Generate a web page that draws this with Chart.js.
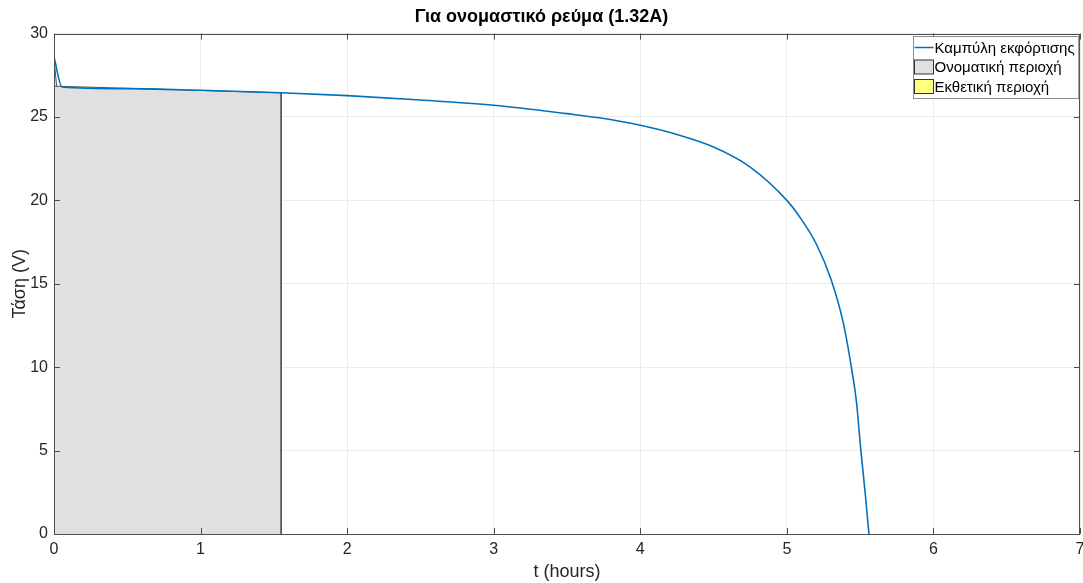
<!DOCTYPE html>
<html>
<head>
<meta charset="utf-8">
<script src="https://cdn.jsdelivr.net/npm/chart.js@4/dist/chart.umd.min.js"></script>
<style>
  html, body { margin: 0; padding: 0; background: #fff; }
  #wrap { width: 1083px; height: 583px; }
</style>
</head>
<body>
<div id="wrap"><canvas id="c"></canvas></div>
<script>
/* 放電曲線 (t σε ώρες, V σε Volt) */
var tDischarge = [0, 0.055, 0.5, 1.0, 1.55, 2.0, 2.5, 3.0, 3.5, 3.72, 4.0, 4.25, 4.5, 4.75, 5.0, 5.1, 5.2, 5.3, 5.384, 5.44, 5.475, 5.505, 5.535, 5.56];
var vDischarge = [28.6, 26.8, 26.7, 26.6, 26.45, 26.28, 26.02, 25.7, 25.2, 24.95, 24.5, 23.95, 23.2, 22.0, 20.0, 18.85, 17.4, 15.3, 12.7, 10.0, 7.9, 5.0, 2.4, 0];

/* Ονοματική περιοχή */
var tNominal = [0, 1.55, 1.55];
var vNominal = [26.85, 26.45, 0];

/* Εκθετική περιοχή */
var tExp = [0, 0.018, 0.018];
var vExp = [28.5, 26.85, 0];

var labels = ['Καμπύλη εκφόρτισης', 'Ονοματική περιοχή', 'Εκθετική περιοχή'];
var xTicks = [0, 1, 2, 3, 4, 5, 6, 7];
var yTicks = [0, 5, 10, 15, 20, 25, 30];

function toPoints(xs, ys) {
    return xs.map((x, i) => ({ x: x, y: ys[i] }));
}

var axisColor = '#262626';
var fontFam = '"Liberation Sans", Arial, Helvetica, sans-serif';

/* πλαίσιο, εσωτερικά ticks και legend όπως στο MATLAB */
var matlabBox = {
    id: 'matlabBox',
    afterDraw(chart) {
        var ctx = chart.ctx, a = chart.chartArea;
        var xs = chart.scales.x, ys = chart.scales.y;
        ctx.save();
        ctx.strokeStyle = '#4d4d4d';
        ctx.lineWidth = 1;
        ctx.beginPath();
        xTicks.forEach(v => {
            var px = Math.round(xs.getPixelForValue(v)) + 0.5;
            ctx.moveTo(px, a.bottom); ctx.lineTo(px, a.bottom - 6);
            ctx.moveTo(px, a.top); ctx.lineTo(px, a.top + 6);
        });
        yTicks.forEach(v => {
            var py = Math.round(ys.getPixelForValue(v)) + 0.5;
            ctx.moveTo(a.left, py); ctx.lineTo(a.left + 6, py);
            ctx.moveTo(a.right, py); ctx.lineTo(a.right - 6, py);
        });
        ctx.stroke();
        ctx.strokeRect(Math.round(a.left) + 0.5, Math.round(a.top) + 0.5,
                       Math.round(a.right - a.left) - 1, Math.round(a.bottom - a.top));

        // legend
        ctx.font = '15px ' + fontFam;
        var w = 0;
        labels.forEach(l => { w = Math.max(w, ctx.measureText(l).width); });
        var bw = w + 25, bh = 62;
        var bx = Math.round(a.right - 2 - bw) + 0.5, by = Math.round(a.top + 2) + 0.5;
        ctx.fillStyle = '#fff';
        ctx.fillRect(bx, by, bw, bh);
        ctx.strokeStyle = '#8c8c8c';
        ctx.strokeRect(bx, by, bw, bh);
        var ds = chart.data.datasets;
        ctx.textBaseline = 'middle';
        ctx.textAlign = 'left';
        for (var i = 0; i < 3; i++) {
            var cy = by + 11 + i * 19.5;
            if (i === 0) {
                ctx.strokeStyle = ds[0].borderColor;
                ctx.lineWidth = 1.5;
                ctx.beginPath(); ctx.moveTo(bx + 1, cy); ctx.lineTo(bx + 20, cy); ctx.stroke();
            } else {
                ctx.fillStyle = ds[i].backgroundColor;
                ctx.fillRect(bx + 1, cy - 7, 19, 14);
                ctx.strokeStyle = '#333';
                ctx.lineWidth = 1;
                ctx.strokeRect(bx + 1, cy - 7, 19, 14);
            }
            ctx.fillStyle = '#000';
            ctx.fillText(labels[i], bx + 21, cy + 1);
        }
        ctx.restore();
    }
};

new Chart(document.getElementById('c'), {
    type: 'scatter',
    data: {
        datasets: [
            {
                label: labels[0],
                data: toPoints(tDischarge, vDischarge),
                showLine: true,
                borderColor: '#0072BD',
                borderWidth: 1.6,
                pointRadius: 0,
                fill: false,
                cubicInterpolationMode: 'monotone'
            },
            {
                label: labels[1],
                data: toPoints(tNominal, vNominal),
                showLine: true,
                borderColor: '#505050',
                backgroundColor: '#e0e0e0',
                borderWidth: 1,
                pointRadius: 0,
                fill: 'origin'
            },
            {
                label: labels[2],
                data: toPoints(tExp, vExp),
                showLine: true,
                borderColor: '#505050',
                backgroundColor: '#ffff80',
                borderWidth: 1,
                pointRadius: 0,
                fill: 'origin'
            }
        ]
    },
    options: {
        responsive: true,
        maintainAspectRatio: false,
        animation: false,
        layout: { padding: { left: 0, right: 0, top: 0, bottom: 0 } },
        plugins: {
            legend: { display: false },
            tooltip: { enabled: false },
            title: {
                display: true,
                text: 'Για ονομαστικό ρεύμα (1.32A)',
                color: '#000',
                font: { family: fontFam, size: 18, weight: 'bold', lineHeight: 1.2 },
                padding: { top: 6, bottom: 6 }
            }
        },
        scales: {
            x: {
                type: 'linear',
                min: 0, max: 7,
                afterBuildTicks: (s) => { s.ticks = xTicks.map(v => ({ value: v })); },
                afterFit: (s) => { s.height = 49; s.paddingRight = 3; },
                grid: { color: '#ebebeb', drawTicks: false },
                border: { display: false },
                ticks: { color: axisColor, padding: 6, font: { family: fontFam, size: 16 } },
                title: {
                    display: true, text: 't (hours)', color: axisColor,
                    font: { family: fontFam, size: 18 }, padding: { top: 1, bottom: 0 }
                }
            },
            y: {
                type: 'linear',
                min: 0, max: 30,
                afterBuildTicks: (s) => { s.ticks = yTicks.map(v => ({ value: v })); },
                afterFit: (s) => { s.width = 54; },
                grid: { color: '#ebebeb', drawTicks: false },
                border: { display: false },
                ticks: { color: axisColor, padding: 6, font: { family: fontFam, size: 16 } },
                title: {
                    display: true, text: 'Τάση (V)', color: axisColor,
                    font: { family: fontFam, size: 18 }, padding: { top: 9, bottom: 0 }
                }
            }
        }
    },
    plugins: [matlabBox]
});
</script>
</body>
</html>
